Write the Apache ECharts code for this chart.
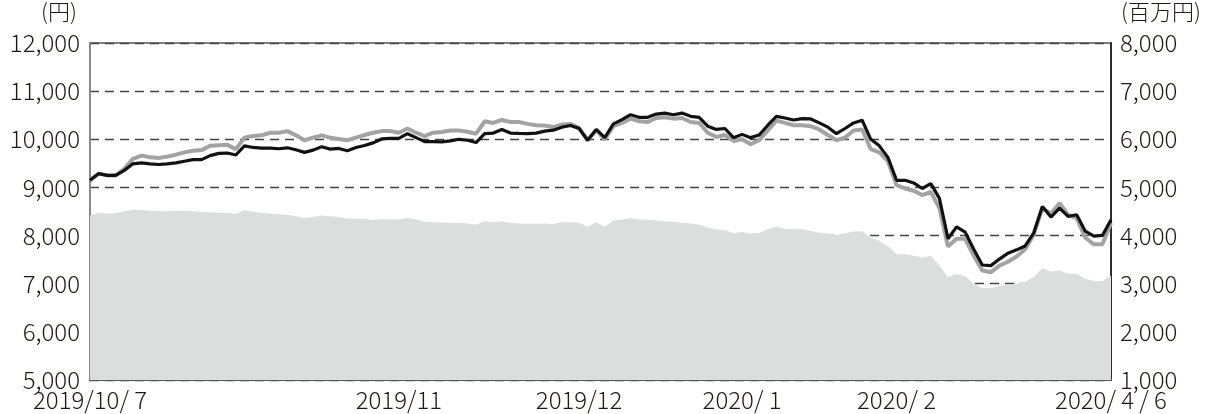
<!DOCTYPE html>
<html>
<head>
<meta charset="utf-8">
<script src="https://cdn.jsdelivr.net/npm/echarts@6/dist/echarts.min.js"></script>
<style>
  html, body { margin: 0; padding: 0; background: #fff; }
  #chart { width: 1214px; height: 414px; }
</style>
</head>
<body>
<div id="chart"></div>
<script>
// 基準価額（円）
const navValues = [
  9150, 9286, 9250, 9250, 9354, 9490, 9510, 9490, 9476, 9490,
  9510, 9544, 9578, 9578, 9660, 9707, 9714, 9673, 9864, 9830,
  9816, 9816, 9803, 9823, 9782, 9728, 9775, 9844, 9796, 9810,
  9762, 9830, 9871, 9925, 10007, 10020, 10020, 10116, 10034, 9952,
  9952, 9946, 9966, 10000, 9980, 9932, 10116, 10129, 10204, 10129,
  10122, 10116, 10129, 10170, 10190, 10252, 10286, 10224, 9980, 10204,
  10034, 10320, 10408, 10510, 10456, 10456, 10524, 10544, 10510, 10544,
  10476, 10456, 10272, 10204, 10224, 10034, 10102, 10034, 10088, 10292,
  10476, 10442, 10401, 10429, 10422, 10340, 10252, 10116, 10224, 10340,
  10395, 10000, 9864, 9625, 9148, 9148, 9093, 8978, 9080, 8773,
  7935, 8180, 8071, 7716, 7389, 7376, 7512, 7635, 7703, 7785,
  8057, 8603, 8384, 8569, 8398, 8432, 8091, 7989, 8003, 8330
];
// 参考指数（円換算）
const refValues = [
  9150, 9286, 9250, 9250, 9388, 9592, 9660, 9626, 9612, 9640,
  9680, 9728, 9762, 9775, 9864, 9878, 9884, 9796, 10034, 10068,
  10082, 10136, 10136, 10170, 10082, 9980, 10034, 10082, 10034, 10007,
  9980, 10034, 10088, 10136, 10170, 10170, 10136, 10224, 10136, 10068,
  10136, 10150, 10184, 10184, 10156, 10116, 10374, 10340, 10401, 10360,
  10360, 10320, 10292, 10286, 10252, 10306, 10320, 10238, 9980, 10184,
  10000, 10272, 10340, 10429, 10374, 10360, 10442, 10456, 10429, 10442,
  10360, 10340, 10136, 10048, 10088, 9966, 10000, 9898, 9980, 10184,
  10388, 10340, 10292, 10292, 10272, 10204, 10088, 9980, 10034, 10184,
  10204, 9795, 9727, 9543, 9046, 8978, 8930, 8841, 8909, 8569,
  7771, 7935, 7935, 7580, 7273, 7239, 7376, 7457, 7566, 7716,
  8023, 8569, 8453, 8671, 8432, 8364, 7955, 7819, 7819, 8262
];
// 純資産総額（百万円）
const assetValues = [
  4415, 4469, 4456, 4463, 4503, 4537, 4537, 4517, 4503, 4503,
  4510, 4517, 4503, 4490, 4483, 4476, 4469, 4449, 4524, 4497,
  4469, 4456, 4442, 4435, 4401, 4367, 4388, 4415, 4401, 4388,
  4354, 4347, 4347, 4320, 4340, 4333, 4333, 4367, 4333, 4293,
  4279, 4272, 4265, 4265, 4252, 4224, 4299, 4279, 4299, 4265,
  4252, 4245, 4245, 4252, 4238, 4279, 4279, 4265, 4184, 4279,
  4184, 4313, 4333, 4361, 4333, 4327, 4313, 4293, 4286, 4265,
  4252, 4231, 4163, 4129, 4116, 4048, 4075, 4041, 4061, 4129,
  4184, 4143, 4129, 4129, 4095, 4061, 4041, 4007, 4048, 4082,
  4091, 3955, 3887, 3785, 3614, 3614, 3580, 3546, 3580, 3376,
  3137, 3205, 3157, 2999, 2912, 2912, 2953, 2980, 2999, 3035,
  3137, 3321, 3253, 3273, 3205, 3205, 3103, 3055, 3055, 3171
];
// 目盛り位置とラベル
const tickIndex = [0, 36, 57, 76, 94, 119];
const tickText = ['2019/10/ 7', '2019/11', '2019/12', '2020/ 1', '2020/ 2', '2020/ 4 / 6'];

const categories = navValues.map(function (v, i) {
  const k = tickIndex.indexOf(i);
  return k >= 0 ? tickText[k] : 'd' + i;
});

const FONT = '"Noto Sans CJK JP", "Noto Sans", sans-serif';
const TEXT = '#231815';
const SIZE = 24;

const chart = echarts.init(document.getElementById('chart'));
chart.setOption({
  animation: false,
  textStyle: { fontFamily: FONT },
  grid: {
    left: 90, right: 103, top: 43, bottom: 34,
    show: true, borderColor: '#555', borderWidth: 1.5, backgroundColor: '#fff'
  },
  graphic: [
    { type: 'text', left: 41, top: 1, style: { text: '(円)', font: '300 22px ' + FONT, fill: TEXT } },
    { type: 'text', left: 1121, top: 1, style: { text: '(百万円)', font: '300 22px ' + FONT, fill: TEXT } }
  ],
  xAxis: {
    type: 'category',
    data: categories,
    boundaryGap: false,
    axisLine: { lineStyle: { color: '#555', width: 2 } },
    axisTick: {
      inside: true, length: 7, lineStyle: { color: '#555', width: 1.2 },
      interval: function (i) { return i > 0 && i < 119 && tickIndex.indexOf(i) >= 0; }
    },
    axisLabel: {
      interval: function (i) { return tickIndex.indexOf(i) >= 0; },
      color: TEXT, fontSize: SIZE, fontWeight: 300, margin: 8, fontFamily: FONT
    },
    splitLine: { show: false }
  },
  yAxis: [
    {
      type: 'value', min: 5000, max: 12000, interval: 1000,
      axisLine: { show: true, lineStyle: { color: '#888', width: 2 } },
      axisTick: { show: false },
      axisLabel: {
        color: TEXT, fontSize: SIZE, fontWeight: 300, margin: 10, fontFamily: FONT,
        formatter: function (v) { return v.toLocaleString('en-US'); }
      },
      splitLine: { show: true, lineStyle: { color: '#444', width: 1.3, type: [9, 6] } }
    },
    {
      type: 'value', min: 1000, max: 8000, interval: 1000,
      axisLine: { show: true, lineStyle: { color: '#111', width: 1.5 } },
      axisTick: { show: false },
      axisLabel: {
        color: TEXT, fontSize: SIZE, fontWeight: 300, margin: 9, fontFamily: FONT,
        formatter: function (v) { return v.toLocaleString('en-US'); }
      },
      splitLine: { show: false }
    }
  ],
  series: [
    {
      name: '純資産総額', type: 'line', yAxisIndex: 1, data: assetValues,
      symbol: 'none', lineStyle: { width: 0 },
      areaStyle: { color: '#dcdddd', opacity: 1 }, itemStyle: { color: '#dcdddd' }
    },
    {
      name: '参考指数', type: 'line', yAxisIndex: 0, data: refValues,
      symbol: 'none', lineStyle: { color: '#a3a3a3', width: 4 }, itemStyle: { color: '#a3a3a3' }
    },
    {
      name: '基準価額', type: 'line', yAxisIndex: 0, data: navValues,
      symbol: 'none', lineStyle: { color: '#111', width: 3.2 }, itemStyle: { color: '#111' }
    }
  ]
});
</script>
</body>
</html>
